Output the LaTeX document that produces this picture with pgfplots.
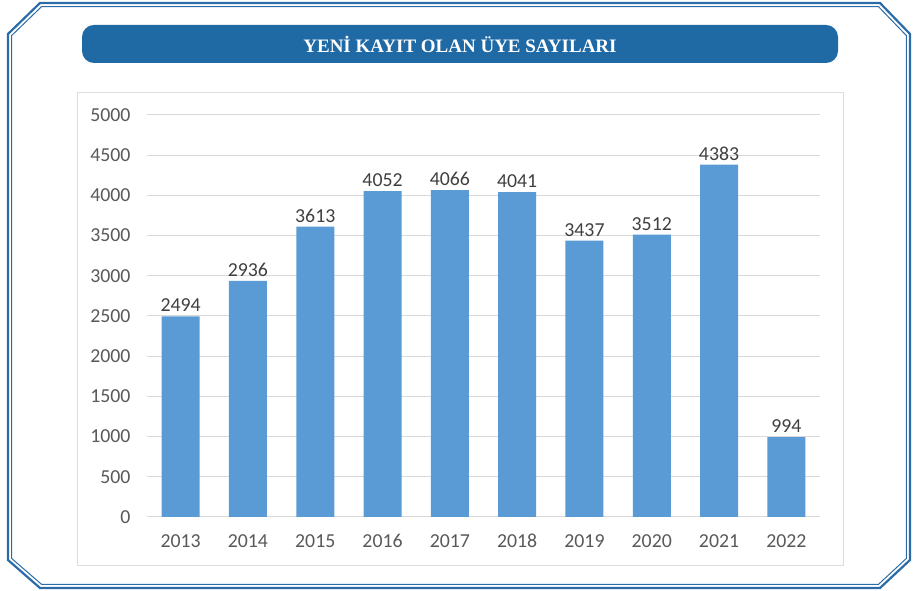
\documentclass[border=0pt]{standalone}
\usepackage{fontspec}
\setmainfont{Carlito}
\newfontfamily\titlefont{Liberation Serif}
\usepackage{pgfplots}
\pgfplotsset{compat=1.18}
\definecolor{frameblue}{HTML}{2B6CA8}
\definecolor{bannerblue}{HTML}{1F69A5}
\definecolor{barblue}{HTML}{5B9BD5}
\definecolor{gridgray}{HTML}{D9D9D9}
\definecolor{boxgray}{HTML}{DDDDDD}
\definecolor{ticktext}{HTML}{595959}
\definecolor{labeltext}{HTML}{404040}
\begin{document}
\begin{tikzpicture}[x=1pt,y=1pt]
\useasboundingbox (0,0) rectangle (913,591);
\fill[white] (0,0) rectangle (913,591);
% frame
\draw[frameblue, line width=2.2pt, line join=miter]
  (40,588) -- (880,588) -- (910,557) -- (910,31) -- (880,3) -- (40,3) -- (8,31) -- (8,557) -- cycle;
\draw[frameblue, line width=1pt, line join=miter]
  (41.5,584.3) -- (878.5,584.3) -- (906.3,555.5) -- (906.3,32.5) -- (878.5,6.7) -- (41.5,6.7) -- (11.7,32.5) -- (11.7,555.5) -- cycle;
% banner
\fill[bannerblue, rounded corners=12pt] (82,528) rectangle (838,566);
\node[text=white, font=\titlefont\bfseries\fontsize{19}{22}\selectfont] at (460,547) {YENİ KAYIT OLAN ÜYE SAYILARI};
% chart box
\draw[boxgray, line width=1pt] (77,25) rectangle (843,498);
\begin{axis}[
  at={(147pt,74pt)}, anchor=south west,
  scale only axis, width=673pt, height=402pt,
  xmin=-0.5, xmax=9.5, ymin=0, ymax=5000,
  enlargelimits=false,
  ytick={0,500,...,5000},
  xtick={0,...,9},
  xticklabels={2013,2014,2015,2016,2017,2018,2019,2020,2021,2022},
  axis line style={draw=none},
  tick style={draw=none},
  major tick length=0pt,
  ymajorgrids,
  grid style={gridgray, line width=1pt},
  scaled ticks=false,
  /pgf/number format/1000 sep={},
  /pgf/number format/assume math mode=true,
  ticklabel style={font=\fontsize{19.8}{23}\selectfont, text=ticktext},
  yticklabel style={xshift=-13pt},
  xticklabel style={anchor=base, yshift=-31pt},
  ybar, bar width=38pt, bar shift=0pt,
  nodes near coords,
  nodes near coords style={font=\fontsize{19.8}{23}\selectfont, text=labeltext, anchor=base, yshift=4.5pt},
]
\addplot[fill=barblue, draw=none] coordinates {
  (0,2494) (1,2936) (2,3613) (3,4052) (4,4066)
  (5,4041) (6,3437) (7,3512) (8,4383) (9,994)
};
\end{axis}
\end{tikzpicture}
\end{document}
